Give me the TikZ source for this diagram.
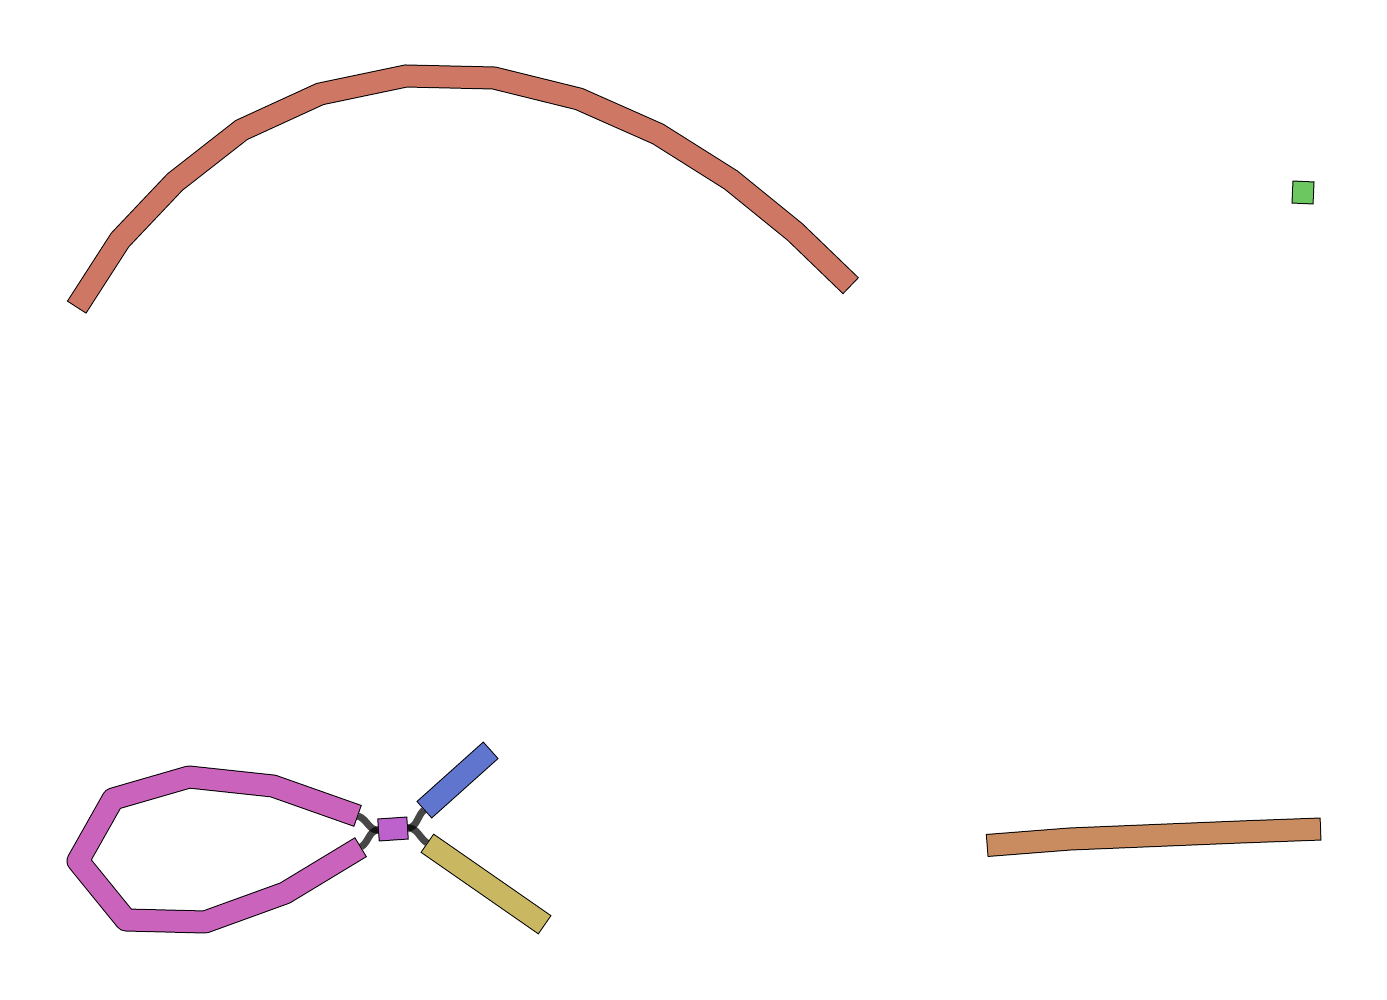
\documentclass[tikz,border=0pt]{standalone}
\usepackage{tikz}
\usetikzlibrary{arrows.meta,positioning}
\definecolor{arcred}{HTML}{CD7764}
\definecolor{loopmag}{HTML}{C963BC}
\definecolor{hubviolet}{HTML}{BD62CC}
\definecolor{armblue}{HTML}{6075CE}
\definecolor{armgold}{HTML}{CAB762}
\definecolor{barorange}{HTML}{C98B60}
\definecolor{dotgreen}{HTML}{6CC760}

\begin{document}
\begin{tikzpicture}[x=0.02cm, y=-0.02cm,
  ribbon/.style={draw=#1, line width=0.42cm, shorten <=0.02cm, shorten >=0.02cm,
    preaction={draw=black, line width=0.46cm, shorten <=0pt, shorten >=0pt}},
  link/.style={draw=black, line width=0.14cm, opacity=0.72}
]
  \useasboundingbox (0,0) rectangle (1387,1000);

  % segment ends used by the links
  \coordinate (loopA) at (358,816);
  \coordinate (loopB) at (361,847);
  \coordinate (hubL) at (378,830);
  \coordinate (hubR) at (408,828);
  \coordinate (blueS) at (424,810);
  \coordinate (blueE) at (491,750);
  \coordinate (goldS) at (427,843);
  \coordinate (goldE) at (545,925);

  % links
  \draw[link] (loopA) .. controls +(9,3) and +(-9,0.5) .. (hubL);
  \draw[link] (loopB) .. controls +(7.7,-4.7) and +(-9,0.5) .. (hubL);
  \draw[link] (hubR) .. controls +(9,-0.5) and +(-6.7,6) .. (blueS);
  \draw[link] (hubR) .. controls +(9,-0.5) and +(-7.4,-5.1) .. (goldS);

  % big arc
  \draw[ribbon=arcred] (76.5,307.5) -- (120,240) -- (175,182) -- (241.5,130) -- (320,94)
    -- (406,76) -- (494,78) -- (579,99) -- (658,134) -- (731,180) -- (795,232) -- (851,286);

  % loop and its arms
  \begin{scope}[line join=round]
    \draw[ribbon=loopmag] (loopA) -- (273,786) -- (189,777) -- (113,799) -- (78,861)
      -- (126,920) -- (205,922) -- (285,893) -- (loopB);
  \end{scope}
  \draw[ribbon=hubviolet] (hubL) -- (hubR);
  \draw[ribbon=armblue] (blueS) -- (blueE);
  \draw[ribbon=armgold] (goldS) -- (goldE);

  % loose pieces
  \draw[ribbon=barorange] (986.7,845.5) -- (1070,839) -- (1240,832) -- (1321,829);
  \draw[ribbon=dotgreen] (1292,192) -- (1314,193);
\end{tikzpicture}
\end{document}
